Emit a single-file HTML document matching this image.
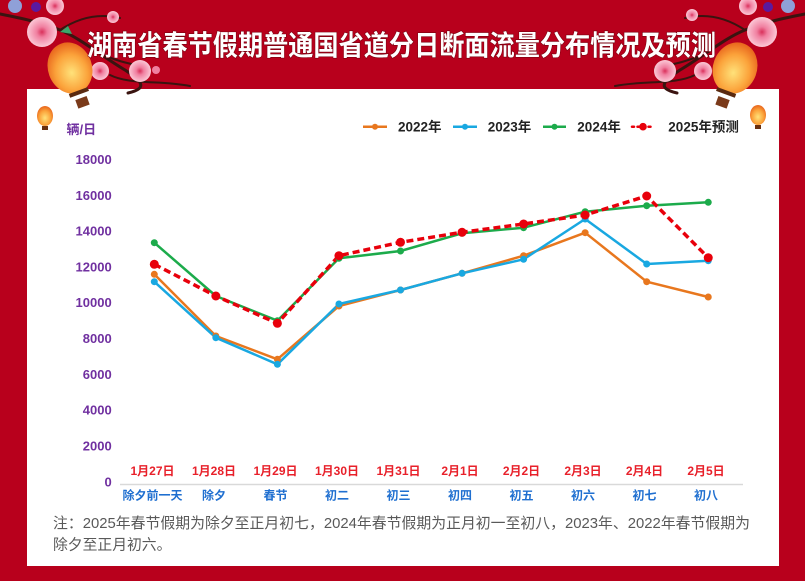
<!DOCTYPE html>
<html><head><meta charset="utf-8"><style>
html,body{margin:0;padding:0;background:#b8001c;}
svg{display:block;}
text{font-family:"Liberation Sans","Noto Sans CJK SC",sans-serif;}
</style></head><body>
<svg width="805" height="581" viewBox="0 0 805 581" xmlns="http://www.w3.org/2000/svg">
<defs>
<radialGradient id="lan" cx="50%" cy="60%" r="60%"><stop offset="0" stop-color="#ffe27a"/><stop offset="0.6" stop-color="#fba23a"/><stop offset="1" stop-color="#e8641c"/></radialGradient>
<radialGradient id="fl" cx="50%" cy="50%" r="50%"><stop offset="0" stop-color="#d9305a"/><stop offset="0.35" stop-color="#f07fa0"/><stop offset="1" stop-color="#fbc8d6"/></radialGradient>
</defs>
<rect width="805" height="581" fill="#b8001c"/>
<!-- white panel -->
<rect x="27" y="89" width="752" height="477" fill="#ffffff"/>

<!-- left decorations -->
<g stroke="#3a1410" stroke-linecap="round" fill="none">
<path d="M0 14 C20 18 40 22 60 30 C80 38 100 55 125 70 C140 80 150 88 128 93" stroke-width="3"/>
<path d="M60 30 C75 20 95 12 120 18" stroke-width="2"/>
<path d="M95 50 C110 60 130 64 150 68" stroke-width="2"/>
<path d="M110 75 C130 85 160 80 190 86" stroke-width="2"/>
</g>
<circle cx="15" cy="6" r="7" fill="#8fa0d8"/>
<circle cx="36" cy="7" r="5" fill="#5a1aa0"/>
<circle cx="42" cy="32" r="15" fill="url(#fl)"/>
<circle cx="55" cy="6" r="9" fill="url(#fl)"/>
<circle cx="113" cy="17" r="6" fill="url(#fl)"/>
<circle cx="100" cy="71" r="9" fill="url(#fl)"/>
<circle cx="140" cy="71" r="11" fill="url(#fl)"/>
<circle cx="156" cy="70" r="4" fill="#f07fa0"/>
<path d="M60 32 l8 -6 l4 8 z" fill="#3aa66a"/>
<g transform="rotate(-20 70 68)">
<ellipse cx="70" cy="68" rx="22" ry="26" fill="url(#lan)"/>
<rect x="60" y="92" width="20" height="4" fill="#5a2a10"/>
<rect x="64" y="100" width="12" height="9" fill="#7a3a1a"/>
</g>
<ellipse cx="45" cy="116" rx="8" ry="10" fill="url(#lan)"/>
<rect x="42" y="126" width="6" height="4" fill="#6a3010"/>

<!-- right decorations -->
<g stroke="#3a1410" stroke-linecap="round" fill="none">
<path d="M805 14 C785 18 765 22 745 30 C725 38 705 55 680 70 C665 80 655 88 677 93" stroke-width="3"/>
<path d="M745 30 C730 20 710 12 685 18" stroke-width="2"/>
<path d="M710 50 C695 60 675 64 655 68" stroke-width="2"/>
<path d="M695 75 C675 85 645 80 615 86" stroke-width="2"/>
</g>
<circle cx="788" cy="6" r="7" fill="#8fa0d8"/>
<circle cx="768" cy="7" r="5" fill="#5a1aa0"/>
<circle cx="762" cy="32" r="15" fill="url(#fl)"/>
<circle cx="748" cy="6" r="9" fill="url(#fl)"/>
<circle cx="692" cy="15" r="6" fill="url(#fl)"/>
<circle cx="703" cy="71" r="9" fill="url(#fl)"/>
<circle cx="665" cy="71" r="11" fill="url(#fl)"/>
<g transform="rotate(20 735 68)">
<ellipse cx="735" cy="68" rx="22" ry="26" fill="url(#lan)"/>
<rect x="725" y="92" width="20" height="4" fill="#5a2a10"/>
<rect x="729" y="100" width="12" height="9" fill="#7a3a1a"/>
</g>
<ellipse cx="758" cy="115" rx="8" ry="10" fill="url(#lan)"/>
<rect x="755" y="125" width="6" height="4" fill="#6a3010"/>

<!-- title -->
<text x="401.5" y="55" text-anchor="middle" font-size="28" font-weight="bold" fill="#ffffff" textLength="629" lengthAdjust="spacingAndGlyphs" style="paint-order:stroke" stroke="#7a0010" stroke-width="1.2">湖南省春节假期普通国省道分日断面流量分布情况及预测</text>

<!-- unit -->
<text x="66.5" y="134" font-size="13" font-weight="bold" fill="#7030a0">辆/日</text>

<!-- y labels -->
<g font-size="13" font-weight="bold" fill="#7030a0" text-anchor="end">
<text x="111.7" y="164">18000</text>
<text x="111.7" y="199.8">16000</text>
<text x="111.7" y="235.6">14000</text>
<text x="111.7" y="271.4">12000</text>
<text x="111.7" y="307.2">10000</text>
<text x="111.7" y="343">8000</text>
<text x="111.7" y="378.8">6000</text>
<text x="111.7" y="414.6">4000</text>
<text x="111.7" y="450.4">2000</text>
<text x="111.7" y="486.3">0</text>
</g>

<!-- axis -->
<line x1="120" y1="484.5" x2="743" y2="484.5" stroke="#d9d9d9" stroke-width="1.5"/>

<!-- date labels -->
<g font-size="12" font-weight="bold" fill="#e8202a" text-anchor="middle">
<text x="152.5" y="475">1月27日</text>
<text x="214" y="475">1月28日</text>
<text x="275.5" y="475">1月29日</text>
<text x="337" y="475">1月30日</text>
<text x="398.5" y="475">1月31日</text>
<text x="460" y="475">2月1日</text>
<text x="521.5" y="475">2月2日</text>
<text x="583" y="475">2月3日</text>
<text x="644.5" y="475">2月4日</text>
<text x="706" y="475">2月5日</text>
</g>
<g font-size="12" font-weight="bold" fill="#1f6fd0" text-anchor="middle">
<text x="152.5" y="499.5">除夕前一天</text>
<text x="214" y="499.5">除夕</text>
<text x="275.5" y="499.5">春节</text>
<text x="337" y="499.5">初二</text>
<text x="398.5" y="499.5">初三</text>
<text x="460" y="499.5">初四</text>
<text x="521.5" y="499.5">初五</text>
<text x="583" y="499.5">初六</text>
<text x="644.5" y="499.5">初七</text>
<text x="706" y="499.5">初八</text>
</g>

<!-- series -->
<g fill="none" stroke-linejoin="round">
<polyline stroke="#e8771e" stroke-width="2.5" points="154.3,274.3 215.85,336 277.4,359.3 338.95,306 400.5,290 462.05,273.3 523.6,255.7 585.15,232.7 646.7,281.7 708.25,297"/>
<polyline stroke="#19a8e1" stroke-width="2.5" points="154.3,281.7 215.85,337.7 277.4,364.3 338.95,304 400.5,290 462.05,273.3 523.6,259.3 585.15,219 646.7,264 708.25,260.7"/>
<polyline stroke="#1cab4b" stroke-width="2.5" points="154.3,242.7 215.85,296 277.4,320.7 338.95,258.3 400.5,251 462.05,233.3 523.6,227.7 585.15,211.7 646.7,205.7 708.25,202.3"/>
<polyline stroke="#e8000b" stroke-width="3.5" stroke-dasharray="7 4" points="154.3,264.3 215.85,296 277.4,323.3 338.95,255.7 400.5,242.3 462.05,232.3 523.6,224 585.15,215 646.7,196 708.25,257.7"/>
</g>
<g fill="#e8771e">
<circle cx="154.3" cy="274.3" r="3.5"/><circle cx="215.85" cy="336" r="3.5"/><circle cx="277.4" cy="359.3" r="3.5"/><circle cx="338.95" cy="306" r="3.5"/><circle cx="400.5" cy="290" r="3.5"/><circle cx="462.05" cy="273.3" r="3.5"/><circle cx="523.6" cy="255.7" r="3.5"/><circle cx="585.15" cy="232.7" r="3.5"/><circle cx="646.7" cy="281.7" r="3.5"/><circle cx="708.25" cy="297" r="3.5"/>
</g>
<g fill="#19a8e1">
<circle cx="154.3" cy="281.7" r="3.5"/><circle cx="215.85" cy="337.7" r="3.5"/><circle cx="277.4" cy="364.3" r="3.5"/><circle cx="338.95" cy="304" r="3.5"/><circle cx="400.5" cy="290" r="3.5"/><circle cx="462.05" cy="273.3" r="3.5"/><circle cx="523.6" cy="259.3" r="3.5"/><circle cx="585.15" cy="219" r="3.5"/><circle cx="646.7" cy="264" r="3.5"/><circle cx="708.25" cy="260.7" r="3.5"/>
</g>
<g fill="#1cab4b">
<circle cx="154.3" cy="242.7" r="3.5"/><circle cx="215.85" cy="296" r="3.5"/><circle cx="277.4" cy="320.7" r="3.5"/><circle cx="338.95" cy="258.3" r="3.5"/><circle cx="400.5" cy="251" r="3.5"/><circle cx="462.05" cy="233.3" r="3.5"/><circle cx="523.6" cy="227.7" r="3.5"/><circle cx="585.15" cy="211.7" r="3.5"/><circle cx="646.7" cy="205.7" r="3.5"/><circle cx="708.25" cy="202.3" r="3.5"/>
</g>
<g fill="#e8000b">
<circle cx="154.3" cy="264.3" r="4.5"/><circle cx="215.85" cy="296" r="4.5"/><circle cx="277.4" cy="323.3" r="4.5"/><circle cx="338.95" cy="255.7" r="4.5"/><circle cx="400.5" cy="242.3" r="4.5"/><circle cx="462.05" cy="232.3" r="4.5"/><circle cx="523.6" cy="224" r="4.5"/><circle cx="585.15" cy="215" r="4.5"/><circle cx="646.7" cy="196" r="4.5"/><circle cx="708.25" cy="257.7" r="4.5"/>
</g>

<!-- legend -->
<line x1="363" y1="126.7" x2="387" y2="126.7" stroke="#e8771e" stroke-width="2.5"/><circle cx="375" cy="126.7" r="3" fill="#e8771e"/>
<line x1="453" y1="126.7" x2="477" y2="126.7" stroke="#19a8e1" stroke-width="2.5"/><circle cx="465" cy="126.7" r="3" fill="#19a8e1"/>
<line x1="543" y1="126.7" x2="566" y2="126.7" stroke="#1cab4b" stroke-width="2.5"/><circle cx="554.5" cy="126.7" r="3" fill="#1cab4b"/>
<line x1="632" y1="126.7" x2="654" y2="126.7" stroke="#e8000b" stroke-width="2.5" stroke-dasharray="2 3.5" stroke-linecap="round"/><circle cx="643" cy="126.7" r="3.8" fill="#e8000b"/>
<g font-size="13.5" font-weight="bold" fill="#222222">
<text x="398" y="131.5">2022年</text>
<text x="487.7" y="131.5">2023年</text>
<text x="577.3" y="131.5">2024年</text>
<text x="668.3" y="131.5">2025年预测</text>
</g>

<!-- note -->
<g font-size="14.8" fill="#595959">
<text x="53" y="528" textLength="697" lengthAdjust="spacingAndGlyphs">注：2025年春节假期为除夕至正月初七，2024年春节假期为正月初一至初八，2023年、2022年春节假期为</text>
<text x="53" y="549.6">除夕至正月初六。</text>
</g>
</svg>
</body></html>
